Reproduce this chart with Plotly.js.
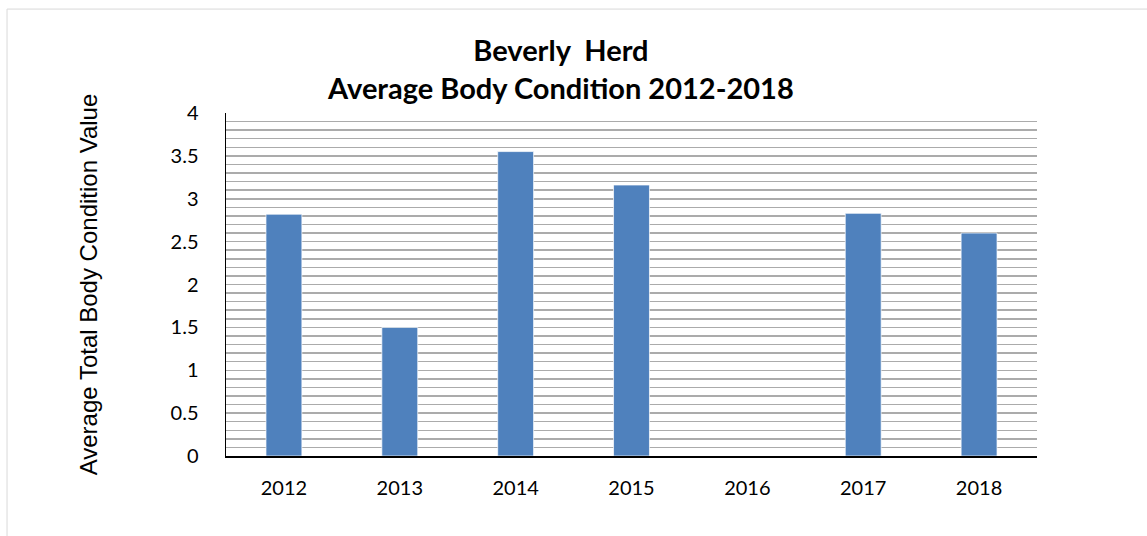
<!DOCTYPE html>
<html>
<head>
<meta charset="utf-8">
<script src="https://cdn.plot.ly/plotly-3.0.1.min.js"></script>
<style>
  html, body { margin: 0; padding: 0; background: #fff; }
  #chart { width: 1147px; height: 536px; }
</style>
</head>
<body>
<div id="chart"></div>
<script>
const years = ['2012', '2013', '2014', '2015', '2016', '2017', '2018'];
const bodyCondition = [2.82, 1.50, 3.55, 3.16, 0, 2.83, 2.60];
const yTickVals = [0, 0.5, 1, 1.5, 2, 2.5, 3, 3.5, 4];
const yTickText = ['0', '0.5', '1', '1.5', '2', '2.5', '3', '3.5', '4'];

const trace = {
  type: 'bar',
  x: years,
  y: bodyCondition,
  width: 0.31,
  marker: { color: '#4f81bd', line: { color: 'rgba(255,255,255,0.7)', width: 1 } },
  hoverinfo: 'x+y'
};

const layout = {
  width: 1147,
  height: 536,
  margin: { l: 226, r: 110, t: 113, b: 80 },
  paper_bgcolor: '#ffffff',
  plot_bgcolor: '#ffffff',
  showlegend: false,
  font: { family: 'Lato, "Open Sans", sans-serif', color: '#000' },
  title: {
    text: '<b>Beverly  Herd</b><br><b>Average Body Condition 2012-2018</b>',
    font: { family: 'Lato, "Open Sans", sans-serif', size: 29, color: '#000' },
    x: 0.413, xref: 'paper', xanchor: 'center',
    y: 0.886, yref: 'container', yanchor: 'middle'
  },
  xaxis: {
    type: 'category',
    showgrid: false,
    showline: true, linecolor: '#000', linewidth: 1.5,
    ticks: '', ticklabelstandoff: 13,
    tickfont: { size: 20, family: 'Lato, "Open Sans", sans-serif' },
    zeroline: false, fixedrange: true
  },
  yaxis: {
    range: [0, 4],
    tickvals: yTickVals,
    ticktext: yTickText,
    showgrid: true, gridcolor: '#ababab', gridwidth: 1.5,
    minor: { dtick: 0.1, showgrid: true, gridcolor: '#ababab', gridwidth: 1.5, ticks: '' },
    showline: true, linecolor: '#000', linewidth: 1.5,
    ticks: '', ticklabelstandoff: 22,
    tickfont: { size: 20, family: 'Lato, "Open Sans", sans-serif' },
    zeroline: false, fixedrange: true,
    title: {
      text: 'Average Total Body Condition Value',
      font: { size: 24, family: '"Liberation Sans", Arial, sans-serif' },
      standoff: 66
    }
  },
  shapes: [{
    type: 'rect', xref: 'paper', yref: 'paper',
    x0: -0.27, x1: 1.14, y0: -0.25, y1: 1.303,
    line: { color: '#d9d9d9', width: 1 }, fillcolor: 'rgba(0,0,0,0)', layer: 'below'
  }]
};

Plotly.newPlot('chart', [trace], layout, { displayModeBar: false, staticPlot: true });
</script>
</body>
</html>
